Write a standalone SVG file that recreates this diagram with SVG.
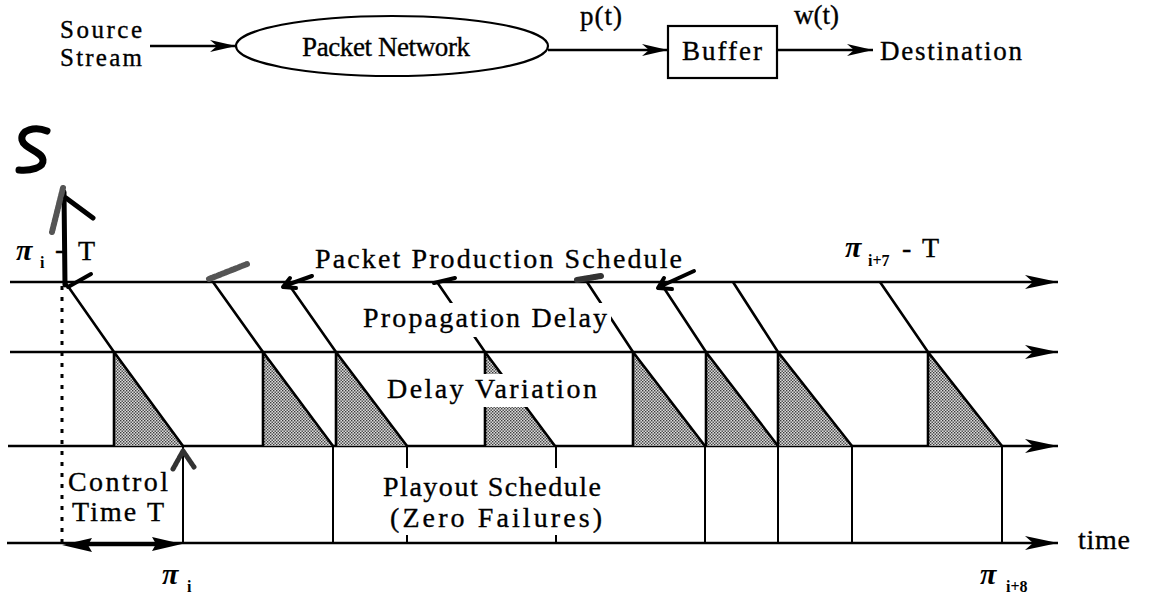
<svg xmlns="http://www.w3.org/2000/svg" width="1149" height="597" viewBox="0 0 1149 597" font-family="'Liberation Serif', 'Times New Roman', 'DejaVu Serif', serif">
<style>
  text{font-family:"Liberation Serif","Times New Roman","DejaVu Serif",serif;fill:#000;stroke:#000;stroke-width:0.35}
  .big{font-size:27px}
  .src{font-size:25px}
  .lbl{font-size:28px}
  .pi{font-size:30px;font-style:italic;font-weight:bold;stroke:none}
  .sub{font-size:16px;font-weight:bold;stroke:none}
  .ln{stroke:#000;stroke-width:2.6;fill:none}
  .shape{stroke:#000;stroke-width:2.2;fill:#fff}
  .hand{stroke:#000;stroke-width:5;fill:none;stroke-linecap:round;stroke-linejoin:round}
  .hatch{stroke:#555;stroke-width:6;fill:none;stroke-linecap:round;stroke-dasharray:3 1.5}
  .tri{fill:url(#dots);stroke:none}
  .mask{fill:#fff}
  .dot{stroke:#000;stroke-width:3;stroke-dasharray:4 7;fill:none}
</style>
<defs>
  <pattern id="dots" width="3" height="3" patternUnits="userSpaceOnUse">
    <rect width="3" height="3" fill="#dcdcdc"/>
    <rect width="1.4" height="1.4" fill="#3a3a3a"/>
    <rect x="1.5" y="1.5" width="1.4" height="1.4" fill="#3a3a3a"/>
  </pattern>
  <marker id="dart" markerUnits="userSpaceOnUse" viewBox="-34 -9 36 18" markerWidth="36" markerHeight="18" refX="0" refY="0" orient="auto">
    <path d="M0,0 L-33,-7 L-25,0 L-33,7 Z" fill="#000"/>
  </marker>
  <marker id="dartS" markerUnits="userSpaceOnUse" viewBox="-28 -8 30 16" markerWidth="30" markerHeight="16" refX="0" refY="0" orient="auto">
    <path d="M0,0 L-26,-6 L-19,0 L-26,6 Z" fill="#000"/>
  </marker>
</defs>

<!-- block diagram: source, network, buffer, destination -->
<g id="source">
  <text class="src" x="60" y="38" textLength="82" lengthAdjust="spacing">Source</text>
  <text class="src" x="60" y="66" textLength="82" lengthAdjust="spacing">Stream</text>
</g>
<g id="network">
  <ellipse class="shape" cx="392" cy="46" rx="156" ry="30"/>
  <text class="big" x="386" y="56" text-anchor="middle" textLength="168" lengthAdjust="spacing">Packet Network</text>
</g>
<g id="buffer">
  <rect class="shape" x="668" y="26" width="109" height="52"/>
  <text class="big" x="722" y="60" text-anchor="middle" textLength="80" lengthAdjust="spacing">Buffer</text>
</g>
<g id="destination">
  <text class="big" x="880" y="60" textLength="142" lengthAdjust="spacing">Destination</text>
</g>
<g id="flow-connectors">
  <line class="ln" x1="150" y1="46" x2="236" y2="46" marker-end="url(#dartS)"/>
  <line class="ln" x1="548" y1="50" x2="668" y2="50" marker-end="url(#dartS)"/>
  <line class="ln" x1="777" y1="50" x2="873" y2="50" marker-end="url(#dartS)"/>
  <text class="big" x="580" y="25" textLength="42" lengthAdjust="spacing">p(t)</text>
  <text class="big" x="794" y="24" textLength="45" lengthAdjust="spacing">w(t)</text>
</g>

<!-- hand-written S -->
<path class="hand" style="stroke-width:7" d="M47 131 C35 126 20 130 22 140 C24 149 42 151 43 160 C44 168 30 171 19 170"/>

<!-- timing chart -->
<g id="timeline-axes">
  <line class="ln" x1="10" y1="282" x2="1058" y2="282" marker-end="url(#dart)"/>
  <line class="ln" x1="10" y1="352" x2="1058" y2="352" marker-end="url(#dart)"/>
  <line class="ln" x1="8" y1="446" x2="1058" y2="446" marker-end="url(#dart)"/>
  <line class="ln" x1="7" y1="543" x2="1058" y2="543" marker-end="url(#dart)"/>
  <line class="dot" x1="62" y1="286" x2="62" y2="546"/>
</g>

<!-- delay variation (shaded) -->
<g id="delay-variation">
  <polygon class="tri" points="114,352 114,446 183,446"/>
  <polygon class="tri" points="263,352 263,446 333,446"/>
  <polygon class="tri" points="336,352 336,446 407,446"/>
  <polygon class="tri" points="485,352 485,446 555,446"/>
  <polygon class="tri" points="633,352 633,446 705,446"/>
  <polygon class="tri" points="706,352 706,446 778,446"/>
  <polygon class="tri" points="778,352 778,446 852,446"/>
  <polygon class="tri" points="928,352 928,446 1002,446"/>
</g>

<!-- packet paths: production -> arrival -> playout -->
<g id="packet-connectors">
  <path class="ln" d="M65 282 L114 352 L183 446 M114 352 V446"/>
  <path class="ln" d="M213 282 L263 352 L333 446 M263 352 V446"/>
  <path class="ln" d="M287 282 L336 352 L407 446 M336 352 V446"/>
  <path class="ln" d="M437 282 L485 352 L555 446 M485 352 V446"/>
  <path class="ln" d="M587 282 L633 352 L705 446 M633 352 V446"/>
  <path class="ln" d="M660 282 L706 352 L778 446 M706 352 V446"/>
  <path class="ln" d="M733 282 L778 352 L852 446 M778 352 V446"/>
  <path class="ln" d="M880 282 L928 352 L1002 446 M928 352 V446"/>
  <!-- playout instants -->
  <path class="ln" style="stroke-width:2" d="M183 446 V543 M333 446 V543 M705 446 V543 M778 446 V543 M852 446 V543 M1002 446 V543"/>
  <path class="ln" style="stroke-width:2" d="M407 446 V468 M407 535 V543 M556 446 V468 M556 535 V543"/>
  <!-- control time T -->
  <line class="ln" x1="88" y1="545" x2="156" y2="545"/>
  <path d="M62 545 L92 538 L88 545 L92 552 Z M182 544 L152 537 L156 544 L152 551 Z" fill="#000"/>
</g>

<!-- hand-drawn marks -->
<g id="hand-marks">
  <path class="hand" d="M65 285 L64 192"/>
  <path class="hatch" d="M63 188 L52 232"/>
  <path class="hand" d="M66 198 L93 218"/>
  <path class="hand" style="stroke-width:4" d="M68 287 L91 274"/>
  <path class="hatch" d="M209 279 L247 264"/>
  <path class="hand" style="stroke-width:4" d="M284 286 L312 276 M283 287 L296 288 M283 287 L290 278"/>
  <path class="hand" style="stroke-width:4" d="M434 283 L455 278"/>
  <path class="hatch" style="stroke:#333" d="M577 280 L601 276"/>
  <path class="hand" style="stroke-width:4" d="M659 287 L694 271 M658 288 L672 289 M658 288 L664 278"/>
  <path class="hatch" style="stroke:#333;stroke-width:5" d="M183 451 L173 469 M183 451 L194 467"/>
</g>

<!-- labels -->
<g id="labels">
  <text class="pi" x="16" y="260">π</text>
  <text class="sub" x="40" y="268">i</text>
  <text class="lbl" x="55" y="258">-</text>
  <text class="lbl" x="78" y="260">T</text>

  <text class="lbl" x="315" y="268" textLength="367" lengthAdjust="spacing">Packet Production Schedule</text>

  <text class="pi" x="845" y="257">π</text>
  <text class="sub" x="868" y="266">i+7</text>
  <text class="lbl" x="902" y="257">-</text>
  <text class="lbl" x="922" y="257">T</text>

  <rect class="mask" x="358" y="303" width="253" height="34"/>
  <text class="lbl" x="363" y="327" textLength="244" lengthAdjust="spacing">Propagation Delay</text>

  <rect class="mask" x="383" y="374" width="218" height="33"/>
  <text class="lbl" x="387" y="398" textLength="210" lengthAdjust="spacing">Delay Variation</text>

  <text class="lbl" x="68" y="491" textLength="100" lengthAdjust="spacing">Control</text>
  <text class="lbl" x="72" y="521" textLength="92" lengthAdjust="spacing">Time T</text>

  <text class="lbl" x="383" y="496" textLength="218" lengthAdjust="spacing">Playout Schedule</text>
  <text class="lbl" x="390" y="527" textLength="212" lengthAdjust="spacing">(Zero Failures)</text>

  <text class="lbl" x="1078" y="549" textLength="52" lengthAdjust="spacing">time</text>

  <text class="pi" x="162" y="584">π</text>
  <text class="sub" x="187" y="592">i</text>
  <text class="pi" x="980" y="584">π</text>
  <text class="sub" x="1006" y="592">i+8</text>
</g>
</svg>
